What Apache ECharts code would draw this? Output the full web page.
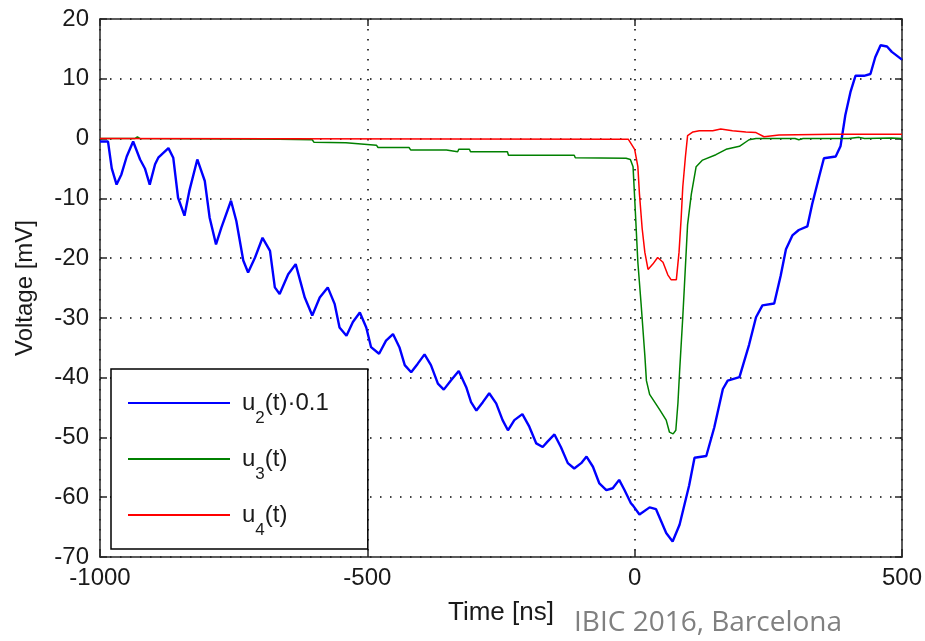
<!DOCTYPE html>
<html>
<head>
<meta charset="utf-8">
<script src="https://cdn.jsdelivr.net/npm/echarts@6.0.0/dist/echarts.min.js"></script>
<style>
    html, body { margin: 0; padding: 0; background: #fff; }
    #main { width: 925px; height: 641px; }
</style>
</head>
<body>
<div id="main"></div>
<script>
// u2(t)*0.1, blue
var u2Time = [-1000, -985, -978, -969, -960, -950, -938, -925, -916, -907, -897, -891, -872, -863, -854, -842,
    -833, -818, -804, -795, -783, -773, -755, -745, -732, -723, -710, -696, -682, -673, -664, -648, -634, -617,
    -603, -589, -574, -561, -552, -539, -527, -514, -502, -493, -478, -465, -452, -440, -430, -418, -406, -393,
    -381, -368, -357, -343, -329, -315, -306, -296, -284, -272, -259, -247, -237, -225, -210, -197, -184, -172,
    -163, -150, -138, -125, -113, -100, -90, -78, -66, -53, -41, -29, -19, -7, -3, 9, 28, 40, 59, 71, 84, 102,
    112, 134, 149, 165, 174, 196, 214, 227, 239, 261, 273, 283, 295, 307, 323, 332, 345, 354, 376, 385, 394,
    404, 413, 429, 441, 450, 460, 472, 481, 500];
var u2Values = [-0.5, -0.5, -5, -7.7, -6, -3, -0.5, -3.5, -5, -7.7, -4.3, -3.2, -1.6, -3.2, -9.9, -12.9,
    -8.8, -3.5, -7.1, -13.2, -17.7, -14.9, -10.4, -13.8, -20.4, -22.4, -19.9, -16.6, -18.8, -24.9, -26, -22.7, -21, -26.6,
    -29.6, -26.6, -24.9, -27.7, -31.6, -33, -30.7, -29.1, -31.6, -34.9, -36, -33.8, -32.7, -34.9, -37.9, -39.1, -37.7, -36.1,
    -37.9, -41, -42, -40.4, -38.9, -41.6, -44.1, -45.5, -44.1, -42.6, -44.3, -47.1, -48.8, -47.1, -46.1, -48.2, -51, -51.6,
    -50.7, -49.5, -51.6, -54.3, -55.2, -54.3, -53.2, -54.9, -57.7, -58.8, -58.5, -57.1, -58.8, -61, -61.4, -62.9, -61.7, -62, -66, -67.4, -64.6, -58,
    -53.4, -53.1, -48.3, -41.9, -40.5, -39.9, -34.5, -29.9, -27.9, -27.6, -23, -18.5, -16.2, -15.3, -14.7, -11, -6.4, -3.3, -3, -1.3, 3.9,
    7.9, 10.5, 10.5, 10.8, 13.6, 15.6, 15.4, 14.5, 13.2];

// u3(t), green
var u3Time = [-1000, -935, -930, -925, -665, -603, -600, -540, -537, -483, -480, -422, -419, -352, -350, -331, -329,
    -309, -307, -238, -236, -113, -111, -16, -8, -3, 0, 6, 12, 19, 22, 28, 47, 59, 65, 72, 77, 81, 84, 90, 93, 99,
    106, 115, 127, 152, 171, 196, 214, 227, 300, 307, 315, 400, 420, 430, 480, 500];
var u3Values = [0, 0, 0.3, 0, -0.1, -0.2, -0.6, -0.7, -1.0, -1.1, -1.5, -1.5, -1.9, -1.9, -2.2, -2.2, -1.8,
    -1.8, -2.2, -2.2, -2.8, -2.8, -3.2, -3.3, -3.5, -4.7, -9.9, -20.7, -27.6, -36.2, -40.5, -42.8, -45.4, -47.1, -49.1, -49.4, -48.8, -44.2, -39.1, -29.9, -24.8, -14.4,
    -9.3, -4.7, -3.6, -2.7, -1.8, -1.3, -0.2, 0, 0, -0.2, 0, 0, 0.2, 0, 0.1, 0];

// u4(t), red
var u4Time = [-1000, -12, 0, 6, 9, 14, 19, 25, 34, 43, 53, 62, 68, 78, 83, 87, 90, 95, 99, 109, 121, 146, 161,
    183, 208, 227, 242, 270, 370, 500];
var u4Values = [0, -0.1, -1.8, -4.7, -9.3, -15, -19, -21.9, -21, -19.9, -20.7, -22.8, -23.6, -23.6, -19, -13.3, -8.1, -3, 0.5, 1.1, 1.3, 1.3, 1.6,
    1.3, 1.1, 1.0, 0.3, 0.6, 0.7, 0.7];

var seriesNames = ['u2', 'u3', 'u4'];
var legendLabels = ['u{s|2}(t)·0.1', 'u{s|3}(t)', 'u{s|4}(t)'];
var seriesColors = ['#0000ff', '#008000', '#ff0000'];

function pairs(xs, ys) {
    var out = [];
    for (var i = 0; i < xs.length; i++) {
        out.push([xs[i], ys[i]])
    }
    return out
}

var axisColor = '#262626';
var textFont = 'Liberation Sans';

// plain numbers, no thousands separator
function plainNumber(v) {
    return String(v)
}

function frameAxis(pos, min, max, interval) {
    return {
        type: 'value',
        position: pos,
        min: min,
        max: max,
        interval: interval,
        axisLine: {onZero: false, lineStyle: {color: axisColor, width: 1.5}},
        axisTick: {inside: true, length: 7, lineStyle: {color: axisColor, width: 1.5}},
        axisLabel: {show: false},
        splitLine: {show: false}
    }
}

var myChart = echarts.init(document.getElementById('main'), null, {renderer: 'canvas'});

var option = {
    animation: false,
    color: seriesColors,
    title: {
        text: 'IBIC 2016, Barcelona',
        left: 574,
        top: 609,
        padding: 0,
        textStyle: {fontFamily: 'Open Sans', fontSize: 28, fontWeight: 'normal', color: '#808080'}
    },
    grid: {left: 100, right: 22, top: 19, bottom: 84},
    legend: {
        left: 111,
        top: 369,
        orient: 'vertical',
        icon: 'rect',
        itemWidth: 102,
        itemHeight: 2,
        itemGap: 8,
        padding: [10, 39, 10, 17],
        backgroundColor: '#fff',
        borderColor: '#000',
        borderWidth: 1.5,
        selectedMode: false,
        data: seriesNames,
        formatter: function (name) {
            return legendLabels[seriesNames.indexOf(name)]
        },
        textStyle: {
            fontFamily: textFont,
            fontSize: 24,
            color: '#1a1a1a',
            lineHeight: 48,
            padding: [0, 0, 0, 7],
            rich: {
                s: {fontFamily: textFont, fontSize: 17, color: '#1a1a1a', padding: [31, 0, 0, 0]}
            }
        }
    },
    xAxis: [
        {
            type: 'value',
            position: 'bottom',
            min: -1000,
            max: 500,
            interval: 500,
            name: 'Time [ns]',
            nameLocation: 'middle',
            nameGap: 43,
            nameTextStyle: {fontFamily: textFont, fontSize: 26, color: '#1a1a1a'},
            axisLine: {onZero: false, lineStyle: {color: axisColor, width: 1.5}},
            axisTick: {inside: true, length: 7, lineStyle: {color: axisColor, width: 1.5}},
            axisLabel: {margin: 9, fontFamily: textFont, fontSize: 24, color: '#1a1a1a', showMinLabel: true, showMaxLabel: true, formatter: plainNumber},
            splitLine: {show: true, lineStyle: {color: '#000', width: 1.5, type: [1.5, 8.5]}}
        },
        frameAxis('top', -1000, 500, 500)
    ],
    yAxis: [
        {
            type: 'value',
            position: 'left',
            min: -70,
            max: 20,
            interval: 10,
            name: 'Voltage [mV]',
            nameLocation: 'middle',
            nameGap: 63,
            nameTextStyle: {fontFamily: textFont, fontSize: 24, color: '#1a1a1a'},
            axisLine: {onZero: false, lineStyle: {color: axisColor, width: 1.5}},
            axisTick: {inside: true, length: 7, lineStyle: {color: axisColor, width: 1.5}},
            axisLabel: {margin: 11, fontFamily: textFont, fontSize: 24, color: '#1a1a1a', showMinLabel: true, showMaxLabel: true, formatter: plainNumber},
            splitLine: {show: true, lineStyle: {color: '#000', width: 1.5, type: [1.5, 8.5]}}
        },
        frameAxis('right', -70, 20, 10)
    ],
    series: [
        {
            name: 'u2',
            type: 'line',
            data: pairs(u2Time, u2Values),
            symbol: 'none',
            lineStyle: {width: 2.4, color: seriesColors[0]}
        },
        {
            name: 'u3',
            type: 'line',
            data: pairs(u3Time, u3Values),
            symbol: 'none',
            lineStyle: {width: 1.5, color: seriesColors[1]}
        },
        {
            name: 'u4',
            type: 'line',
            data: pairs(u4Time, u4Values),
            symbol: 'none',
            lineStyle: {width: 1.5, color: seriesColors[2]}
        }
    ]
};

myChart.setOption(option);
</script>
</body>
</html>
